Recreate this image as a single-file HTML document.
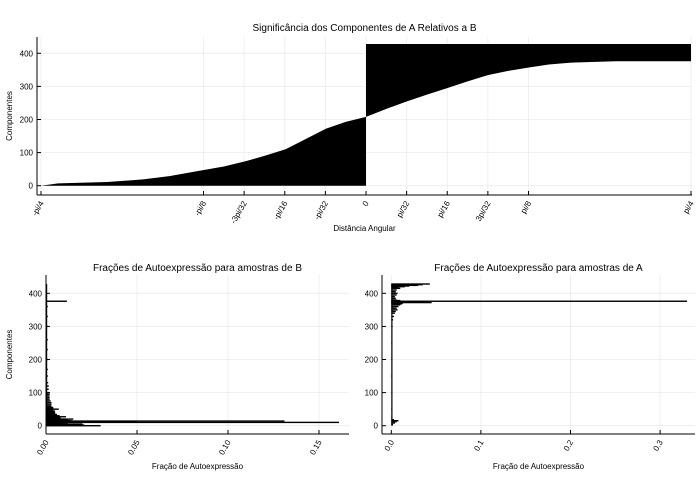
<!DOCTYPE html>
<html><head><meta charset="utf-8">
<style>
body{margin:0;background:#fff;}
svg{display:block;font-family:"Liberation Sans","DejaVu Sans",sans-serif;}
</style></head>
<body>
<svg id="c" width="700" height="500" viewBox="0 0 700 500" xmlns="http://www.w3.org/2000/svg"></svg>
<script>
// ---- Top chart data: angle (units of pi/32) vs component index
const topAngles = [-8, -7.58, -6.37, -5.49, -4.84, -4.01, -3.5, -2.99, -2.5, -1.98, -1.5, -0.99, -0.5, 0];
const topCompsLeft = [0, 7, 11, 19, 29, 47, 58, 73, 90, 110, 140, 172, 193, 208];
const topAnglesRight = [0, 0.5, 0.99, 1.5, 1.98, 2.5, 3.0, 3.5, 4.01, 4.5, 5.05, 6.15, 8];
const topCompsRight = [208, 232, 254, 275, 294, 315, 334, 347, 357, 366, 372, 376, 376];
const topMaxComp = 428;
const topTickVals = [-8, -4, -3, -2, -1, 0, 1, 2, 3, 4, 8];
const topTickLabels = ["-pi/4","-pi/8","-3pi/32","-pi/16","-pi/32","0","pi/32","pi/16","3pi/32","pi/8","pi/4"];
const yTicks = [0, 100, 200, 300, 400];
// ---- Bottom-left (B) data
const bComps = [0,1,2,3,4,5,6,7,8,9,10,11,12,13,14,15,16,17,18,19,20,22,24,26,27,29,30,32,34,36,38,40,42,44,46,48,50,52,55,58,60,65,70,75,80,85,90,95,100,110,120,130,150,170,200,230,260,300,330,360,376,390,410,428];
const bVals = [0.030,0.020,0.021,0.012,0.014,0.020,0.009,0.010,0.009,0.012,0.161,0.015,0.050,0.012,0.131,0.014,0.010,0.012,0.009,0.011,0.015,0.008,0.008,0.007,0.011,0.007,0.0075,0.006,0.006,0.005,0.005,0.005,0.004,0.005,0.004,0.004,0.007,0.004,0.004,0.003,0.003,0.003,0.003,0.0025,0.002,0.002,0.002,0.002,0.002,0.0015,0.0015,0.0012,0.001,0.001,0.001,0.001,0.001,0.001,0.001,0.001,0.0115,0.0006,0.0005,0.0003];
const bTicks = [0, 0.05, 0.10, 0.15];
const bTickLabels = ["0.00","0.05","0.10","0.15"];
// ---- Bottom-right (A) data
const aComps = [3,8,12,15,18,25,50,100,150,200,250,300,320,330,340,345,350,355,360,365,368,370,372,374,376,378,380,385,390,395,400,405,410,415,418,420,422,424,426,428];
const aVals = [0.002,0.004,0.006,0.008,0.003,0.001,0.001,0.001,0.001,0.001,0.001,0.0015,0.002,0.003,0.004,0.005,0.007,0.006,0.008,0.010,0.012,0.013,0.045,0.040,0.330,0.010,0.006,0.005,0.004,0.006,0.007,0.005,0.006,0.010,0.008,0.015,0.020,0.030,0.035,0.043];
const aTicks = [0, 0.1, 0.2, 0.3];
const aTickLabels = ["0.0","0.1","0.2","0.3"];

const svg = document.getElementById('c');
const NS = 'http://www.w3.org/2000/svg';
function mk(tag, attrs, parent){const e=document.createElementNS(NS,tag);for(const k in attrs)e.setAttribute(k,attrs[k]);(parent||svg).appendChild(e);return e;}

function axes(p){
  const g = mk('g',{});
  
  
  p.xt.forEach(v=>{mk('line',{x1:p.x(v),x2:p.x(v),y1:p.top,y2:p.bottom,stroke:'#ebebeb','stroke-width':0.8},g);});
  yTicks.forEach(v=>{mk('line',{x1:p.left,x2:p.right,y1:p.y(v),y2:p.y(v),stroke:'#ebebeb','stroke-width':0.8},g);});
  return g;
}
function frame(p,g){
  mk('line',{x1:p.left,x2:p.right,y1:p.bottom,y2:p.bottom,stroke:'#000','stroke-width':1},g);
  mk('line',{x1:p.left,x2:p.left,y1:p.top,y2:p.bottom,stroke:'#000','stroke-width':1},g);
  p.xt.forEach((v,i)=>{
    mk('line',{x1:p.x(v),x2:p.x(v),y1:p.bottom,y2:p.bottom-4,stroke:'#000','stroke-width':1},g);
    const tx=p.x(v)+3;
    const t=mk('text',{x:tx,y:p.bottom+8,'font-size':8,'text-anchor':'end',transform:`rotate(-60 ${tx} ${p.bottom+8})`},g);
    t.textContent=p.xl[i];
    
    
  });
  yTicks.forEach(v=>{
    mk('line',{x1:p.left,x2:p.left+4,y1:p.y(v),y2:p.y(v),stroke:'#000','stroke-width':1},g);
    const t=mk('text',{x:p.left-4,y:p.y(v)+3,'font-size':8,'text-anchor':'end'},g);
    t.textContent=v;
    
    
  });
  const ti=mk('text',{x:(p.left+p.right)/2,y:p.titleY,'font-size':10,'text-anchor':'middle'},g);
  ti.textContent=p.title;
  
  
  const xl=mk('text',{x:(p.left+p.right)/2,y:p.xlabY,'font-size':8,'text-anchor':'middle'},g);
  xl.textContent=p.xlab;
  
  
  if(p.ylab){
    const yl=mk('text',{x:12,y:(p.top+p.bottom)/2,'font-size':8,'text-anchor':'middle',transform:`rotate(-90 12 ${(p.top+p.bottom)/2})`},g);
    yl.textContent=p.ylab;
    
    
  }
}

// ---- Top chart
const T={name:'top-chart',left:37,right:692,top:37,bottom:195,titleY:31,xlabY:231,title:'Significância dos Componentes de A Relativos a B',xlab:'Distância Angular',ylab:'Componentes',xt:topTickVals,xl:topTickLabels};
T.x=v=>366+v/8*325; T.y=v=>185.7-v*(132.4/400);
const gT=axes(T);
let pts=[];
topAngles.forEach((a,i)=>pts.push(T.x(a)+','+T.y(topCompsLeft[i])));
pts.push(T.x(0)+','+T.y(0)); pts.push(T.x(topAngles[0])+','+T.y(0));
const lp=mk('polygon',{points:pts.join(' '),fill:'#000'},gT);


pts=[];
topAnglesRight.forEach((a,i)=>pts.push(T.x(a)+','+T.y(topCompsRight[i])));
pts.push(T.x(topAnglesRight[topAnglesRight.length-1])+','+T.y(topMaxComp));
pts.push(T.x(0)+','+T.y(topMaxComp));
const rp=mk('polygon',{points:pts.join(' '),fill:'#000'},gT);


frame(T,gT);

// ---- Bottom charts
function barChart(p,comps,vals){
  const g=axes(p);
  comps.forEach((c,i)=>{
    const r=mk('rect',{x:p.x(0),y:p.y(c)-0.7,width:Math.max(0.5,p.x(vals[i])-p.x(0)),height:1.4,fill:'#000'},g);
    
    
  });
  mk('rect',{x:p.x(0),y:p.y(428),width:1.2,height:p.y(0)-p.y(428),fill:'#000'},g);
  frame(p,g);
}
const B={name:'b-chart',left:46,right:349,top:275,bottom:434,titleY:271,xlabY:469,title:'Frações de Autoexpressão para amostras de B',xlab:'Fração de Autoexpressão',ylab:'Componentes',xt:bTicks,xl:bTickLabels};
B.x=v=>46+v/0.05*91; B.y=v=>425.7-v*(132.4/400);
barChart(B,bComps,bVals);
const A={name:'a-chart',left:382,right:695,top:275,bottom:434,titleY:271,xlabY:469,title:'Frações de Autoexpressão para amostras de A',xlab:'Fração de Autoexpressão',ylab:null,xt:aTicks,xl:aTickLabels};
A.x=v=>391.3+v/0.1*89.6; A.y=B.y;
barChart(A,aComps,aVals);
</script>
</body></html>
